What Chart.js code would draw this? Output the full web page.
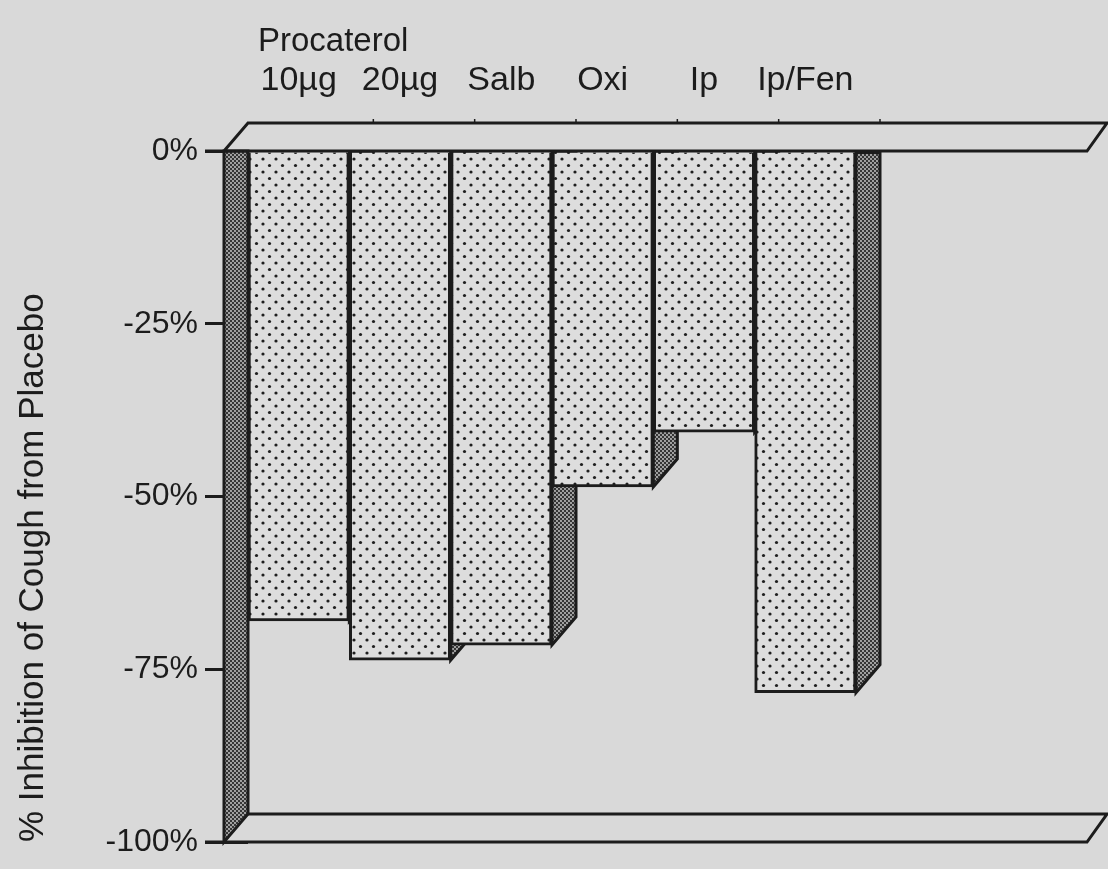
<!DOCTYPE html>
<html>
<head>
<meta charset="utf-8">
<script src="https://cdn.jsdelivr.net/npm/chart.js@4/dist/chart.umd.min.js"></script>
<style>
  html, body { margin: 0; padding: 0; background: #d9d9d9; }
  canvas { display: block; }
</style>
</head>
<body>
<canvas id="c" width="1108" height="869"></canvas>
<script>
// Treatments and their mean change in cough count versus placebo (%)
const categories = ['10µg', '20µg', 'Salb', 'Oxi', 'Ip', 'Ip/Fen'];
const inhibition = [-68, -73.7, -71.5, -48.6, -40.7, -78.4];
const yTicks = [0, -25, -50, -75, -100];
const groupLabel = 'Procaterol';        // spans the first two doses
const axisTitle = '% Inhibition of Cough from Placebo';

const INK = '#1c1c1c';
const PAPER = '#d9d9d9';
const FONT = '"Liberation Sans", Arial, Helvetica, sans-serif';
const DX = 24, DY = 28;          // oblique depth of the pseudo-3D frame

const canvas = document.getElementById('c');
const ctx = canvas.getContext('2d');

// light dotted screen for bar faces
function stipplePattern() {
  const t = document.createElement('canvas');
  t.width = 13; t.height = 13;
  const g = t.getContext('2d');
  g.fillStyle = '#dddddd';
  g.fillRect(0, 0, 13, 13);
  g.fillStyle = '#1e1e1e';
  [[3, 3], [9.5, 9.5]].forEach(([x, y]) => {
    g.beginPath(); g.arc(x, y, 1.6, 0, Math.PI * 2); g.fill();
  });
  return ctx.createPattern(t, 'repeat');
}
// dense dark screen for side faces and the wall
function darkPattern() {
  const t = document.createElement('canvas');
  t.width = 4; t.height = 4;
  const g = t.getContext('2d');
  g.fillStyle = '#353535';
  g.fillRect(0, 0, 4, 4);
  g.fillStyle = '#d2d2d2';
  [[1, 1], [3, 3]].forEach(([x, y]) => {
    g.beginPath(); g.arc(x, y, 0.9, 0, Math.PI * 2); g.fill();
  });
  return ctx.createPattern(t, 'repeat');
}
const faceFill = stipplePattern();
const sideFill = darkPattern();

function poly(points, fill) {
  ctx.beginPath();
  points.forEach(([x, y], i) => (i ? ctx.lineTo(x, y) : ctx.moveTo(x, y)));
  ctx.closePath();
  if (fill) { ctx.fillStyle = fill; ctx.fill(); }
  ctx.stroke();
}

const depthFrame = {
  id: 'depthFrame',
  beforeDraw(chart) {
    const c = chart.ctx;
    c.save();
    c.fillStyle = PAPER;
    c.fillRect(0, 0, chart.width, chart.height);
    c.restore();
  },
  beforeDatasetsDraw(chart) {
    // right-hand side faces, partly hidden by the next bar's front
    const c = chart.ctx;
    c.save();
    c.strokeStyle = INK; c.lineWidth = 3; c.lineJoin = 'miter';
    chart.getDatasetMeta(0).data.forEach(bar => {
      const { x, y, base, width } = bar.getProps(['x', 'y', 'base', 'width'], true);
      const xr = x + width / 2;
      poly([[xr, base], [xr + DX, base], [xr + DX, y - DY], [xr, y]], sideFill);
    });
    c.restore();
  },
  afterDatasetsDraw(chart) {
    const c = chart.ctx;
    const ys = chart.scales.y, xs = chart.scales.x;
    const y0 = ys.getPixelForValue(0);
    const y1 = ys.getPixelForValue(-100);
    const back = chart.chartArea.left;
    const front = back - DX;
    const tickStart = back - ys.options.grid.tickLength;
    const farBack = chart.width - 1;
    const farFront = farBack - DX + 4;
    c.save();
    c.strokeStyle = INK; c.lineWidth = 3; c.lineJoin = 'miter';
    // left wall
    poly([[front, y0], [back, y0], [back, y1 - DY], [front, y1]], sideFill);
    // floor slab at -100%
    c.beginPath();
    c.moveTo(tickStart, y1); c.lineTo(farFront, y1);
    c.lineTo(farBack, y1 - DY); c.lineTo(back, y1 - DY);
    c.stroke();
    // ceiling slab at 0%
    c.beginPath();
    c.moveTo(tickStart, y0); c.lineTo(farFront, y0);
    c.lineTo(farBack, y0 - DY); c.lineTo(back, y0 - DY); c.lineTo(front, y0);
    c.stroke();
    // category dividers on the back edge of the ceiling
    c.lineWidth = 1.5;
    const n = categories.length;
    const step = (chart.chartArea.right - chart.chartArea.left) / n;
    for (let i = 1; i <= n; i++) {
      const xb = xs.getPixelForValue(i - 1) + step / 2 + DX;
      c.beginPath(); c.moveTo(xb, y0 - DY); c.lineTo(xb, y0 - DY - 4); c.stroke();
    }
    // group heading over the two procaterol doses
    c.fillStyle = INK;
    c.font = '33px ' + FONT;
    c.textAlign = 'left';
    c.textBaseline = 'alphabetic';
    c.fillText(groupLabel, xs.getPixelForValue(0) - step / 2 + 10, y0 - 100);
    c.restore();
  }
};

new Chart(ctx, {
  type: 'bar',
  data: {
    labels: categories,
    datasets: [{
      data: inhibition,
      backgroundColor: faceFill,
      borderColor: INK,
      borderWidth: 3,
      borderSkipped: 'start',
      barPercentage: 1,
      categoryPercentage: 1
    }]
  },
  options: {
    responsive: false,
    devicePixelRatio: 1,
    animation: false,
    layout: { padding: { left: 0, top: 0, right: 252, bottom: 27 } },
    plugins: { legend: { display: false }, tooltip: { enabled: false } },
    scales: {
      x: {
        position: 'top',
        grid: { display: false, drawTicks: false },
        border: { display: false },
        ticks: {
          color: INK,
          font: { family: FONT, size: 34 },
          padding: 50,
          maxRotation: 0,
          autoSkip: false
        },
        afterFit(scale) { scale.height = 151; }
      },
      y: {
        min: -100,
        max: 0,
        afterBuildTicks(scale) { scale.ticks = yTicks.map(v => ({ value: v })); },
        grid: {
          drawOnChartArea: false,
          drawTicks: true,
          tickLength: 43,
          color: INK,
          lineWidth: 3
        },
        border: { display: false },
        ticks: {
          color: INK,
          font: { family: FONT, size: 32 },
          padding: 7,
          callback: v => v + '%'
        },
        title: {
          display: true,
          text: axisTitle,
          align: 'start',
          color: INK,
          font: { family: FONT, size: 35 },
          padding: { top: 12, bottom: 0 }
        },
        afterFit(scale) { scale.width = 248; }
      }
    }
  },
  plugins: [depthFrame]
});
</script>
</body>
</html>
